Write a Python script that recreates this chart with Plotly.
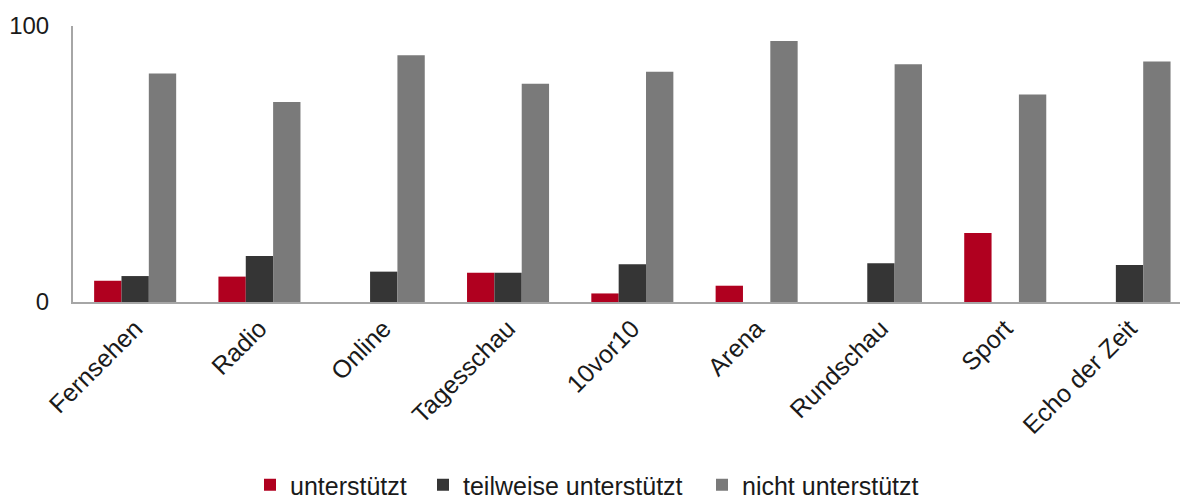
import plotly.graph_objects as go

categories = ["Fernsehen", "Radio", "Online", "Tagesschau", "10vor10", "Arena",
              "Rundschau", "Sport", "Echo der Zeit"]
unterstuetzt = [7.7, 9.2, 0, 10.6, 3.1, 5.9, 0, 25.0, 0]
teilweise = [9.4, 16.7, 11.0, 10.6, 13.7, 0, 14.0, 0, 13.4]
nicht = [82.8, 72.5, 89.4, 79.1, 83.4, 94.6, 86.1, 75.2, 87.1]
series_names = ["unterstützt", "teilweise unterstützt", "nicht unterstützt"]
colors = ["#B0001F", "#353535", "#7A7A7A"]
legend_ids = ["legend", "legend2", "legend3"]
legend_text_x = [290, 463, 742]

W, H = 1182, 501
fig = go.Figure()
for name, vals, col, lid in zip(series_names, [unterstuetzt, teilweise, nicht], colors, legend_ids):
    fig.add_trace(go.Bar(x=categories, y=vals, name=name, legend=lid,
                         marker=dict(color=col, line=dict(width=0))))

font = "Liberation Sans, Arial, sans-serif"
layout_legends = {}
for lid, tx in zip(legend_ids, legend_text_x):
    layout_legends[lid] = dict(
        orientation="h", xref="container", yref="container",
        x=(tx - 40) / W, xanchor="left", y=(H - 485) / H, yanchor="middle",
        font=dict(size=25, color="#1a1a1a", family=font), bgcolor="rgba(0,0,0,0)",
        borderwidth=0)

fig.update_layout(
    width=W, height=H,
    margin=dict(l=73, r=2, t=26, b=199),
    paper_bgcolor="white", plot_bgcolor="white",
    barmode="group", bargap=0.34, bargroupgap=0,
    font=dict(family=font, size=25, color="#1a1a1a"),
    showlegend=True,
    xaxis=dict(range=[-0.5, 8.406], tickangle=-45, showline=True, linecolor="#A6A6A6",
               linewidth=2, ticks="", showgrid=False, tickfont=dict(size=25),
               automargin=False, fixedrange=True),
    yaxis=dict(range=[0, 100], tickvals=[0, 100], ticktext=["0", "100"], showline=True,
               linecolor="#A6A6A6", linewidth=2, ticks="", showgrid=False, zeroline=False,
               tickfont=dict(size=24), ticklabelstandoff=17, automargin=False),
    **layout_legends,
)
fig.write_html("out.html")
